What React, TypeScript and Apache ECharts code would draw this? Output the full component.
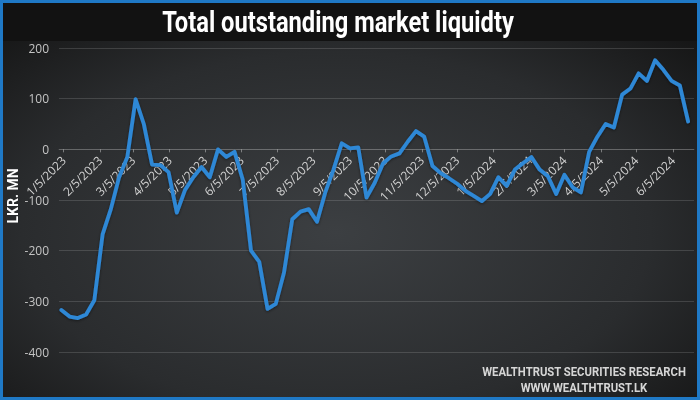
import React, { useEffect, useRef } from "react";
import * as echarts from "echarts";

// Weekly observation dates (Tuesdays)
const weekDates: string[] = [
  "2023-01-03", "2023-01-10", "2023-01-17", "2023-01-24", "2023-01-31",
  "2023-02-07", "2023-02-14", "2023-02-21", "2023-02-28",
  "2023-03-07", "2023-03-14", "2023-03-21", "2023-03-28",
  "2023-04-04", "2023-04-11", "2023-04-18", "2023-04-25",
  "2023-05-02", "2023-05-09", "2023-05-16", "2023-05-23", "2023-05-30",
  "2023-06-06", "2023-06-13", "2023-06-20", "2023-06-27",
  "2023-07-04", "2023-07-11", "2023-07-18", "2023-07-25",
  "2023-08-01", "2023-08-08", "2023-08-15", "2023-08-22", "2023-08-29",
  "2023-09-05", "2023-09-12", "2023-09-19", "2023-09-26",
  "2023-10-03", "2023-10-10", "2023-10-17", "2023-10-24", "2023-10-31",
  "2023-11-07", "2023-11-14", "2023-11-21", "2023-11-28",
  "2023-12-05", "2023-12-12", "2023-12-19", "2023-12-26",
  "2024-01-02", "2024-01-09", "2024-01-16", "2024-01-23", "2024-01-30",
  "2024-02-06", "2024-02-13", "2024-02-20", "2024-02-27",
  "2024-03-05", "2024-03-12", "2024-03-19", "2024-03-26",
  "2024-04-02", "2024-04-09", "2024-04-16", "2024-04-23", "2024-04-30",
  "2024-05-07", "2024-05-14", "2024-05-21", "2024-05-28",
  "2024-06-04", "2024-06-11", "2024-06-18",
];

// Total outstanding market liquidity (LKR bn)
const liquidity: number[] = [
  -317, -330, -333, -326, -298,
  -168, -118, -55, -15,
  99, 50, -30, -31,
  -45, -125, -80, -55,
  -35, -55, 0, -15, -5,
  -60, -200, -222, -315,
  -305, -243, -138, -123,
  -118, -143, -85, -40, 12,
  2, 4, -95, -66,
  -28, -14, -8, 15, 36,
  25, -33, -47, -57,
  -68, -82, -92, -102,
  -88, -55, -72, -40, -27,
  -15, -40, -53, -88,
  -50, -75, -85, -5,
  25, 50, 43, 108, 120,
  150, 135, 176, 157,
  135, 126, 55,
];

const axisStart = "2023-01-01";
const axisEnd = "2024-06-23";
const yMin = -400;
const yMax = 200;
const yStep = 100;

const titleText = "Total outstanding market liquidty";
const yAxisName = "LKR. MN";
const footerLine1 = "WEALTHTRUST SECURITIES RESEARCH";
const footerLine2 = "WWW.WEALTHTRUST.LK";

function buildDays(start: string, end: string): string[] {
  const out: string[] = [];
  const d = new Date(start + "T00:00:00Z");
  const e = new Date(end + "T00:00:00Z");
  while (d.getTime() <= e.getTime()) {
    out.push(d.toISOString().slice(0, 10));
    d.setUTCDate(d.getUTCDate() + 1);
  }
  return out;
}

const GRID_TOP = 48;
const GRID_BOTTOM = 48;
const CHART_H = 400;

export default function App() {
  const ref = useRef<HTMLDivElement>(null);

  useEffect(() => {
    if (!ref.current) return;
    const chart = echarts.init(ref.current, undefined, { renderer: "svg" });

    const days = buildDays(axisStart, axisEnd);
    const lookup: Record<string, number> = {};
    weekDates.forEach((d, i) => {
      lookup[d] = liquidity[i];
    });
    const seriesData = days.map((d) => (d in lookup ? lookup[d] : null));
    const isFifth = (_i: number, v: string) => v.slice(8, 10) === "05";

    // place the category axis on the zero line of the value axis
    const plotH = CHART_H - GRID_TOP - GRID_BOTTOM;
    const zeroFromBottom = (plotH * (0 - yMin)) / (yMax - yMin);

    chart.setOption({
      animation: false,
      backgroundColor: {
        type: "radial",
        x: 0.48,
        y: 0.58,
        r: 0.75,
        colorStops: [
          { offset: 0, color: "#3c3f42" },
          { offset: 0.6, color: "#2a2c2e" },
          { offset: 1, color: "#121212" },
        ],
      },
      grid: { left: 59, right: 6, top: GRID_TOP, bottom: GRID_BOTTOM, containLabel: false },
      xAxis: {
        type: "category",
        data: days,
        boundaryGap: false,
        offset: -zeroFromBottom,
        z: 1,
        axisLine: { show: true, onZero: false, lineStyle: { color: "rgba(255,255,255,0.16)", width: 1 } },
        axisTick: { show: true, interval: isFifth, length: 3, lineStyle: { color: "rgba(220,220,220,0.45)" } },
        axisLabel: {
          interval: isFifth,
          rotate: 45,
          margin: 9,
          color: "#d2d2d2",
          fontSize: 12,
          fontFamily: "Open Sans",
          formatter: (v: string) => `${parseInt(v.slice(5, 7), 10)}/5/${v.slice(0, 4)}`,
        },
        splitLine: { show: false },
      },
      yAxis: {
        type: "value",
        min: yMin,
        max: yMax,
        interval: yStep,
        axisLine: { show: false, onZero: false },
        axisTick: { show: false },
        axisLabel: { color: "#c4c4c4", fontSize: 12, fontFamily: "Open Sans", margin: 10 },
        splitLine: { lineStyle: { color: "rgba(255,255,255,0.14)", width: 1 } },
      },
      series: [
        {
          type: "line",
          data: seriesData,
          connectNulls: true,
          showSymbol: false,
          symbol: "none",
          smooth: false,
          lineStyle: {
            color: "#2f88d6",
            width: 3.8,
            join: "round",
            cap: "round",
            shadowColor: "rgba(0,0,0,0.45)",
            shadowBlur: 3,
            shadowOffsetY: 1,
          },
          z: 5,
        },
      ],
      graphic: [
        {
          type: "rect",
          shape: { x: 0, y: 0, width: 700, height: 41 },
          style: { fill: "#121212" },
          z: 1,
        },
        {
          type: "text",
          x: 338,
          y: 22,
          scaleX: 0.79,
          style: {
            text: titleText,
            fill: "#ffffff",
            font: "bold 30px Roboto",
            align: "center",
            verticalAlign: "middle",
          },
          z: 10,
        },
        {
          type: "text",
          x: 13,
          y: 196,
          rotation: Math.PI / 2,
          style: {
            text: yAxisName,
            fill: "#ffffff",
            font: "bold 14px Roboto",
            align: "center",
            verticalAlign: "middle",
          },
          z: 10,
        },
        {
          type: "text",
          x: 584,
          y: 372,
          scaleX: 0.87,
          style: {
            text: footerLine1,
            fill: "#d6d6d6",
            font: "bold 13px Roboto",
            align: "center",
            verticalAlign: "middle",
          },
          z: 10,
        },
        {
          type: "text",
          x: 584,
          y: 388,
          scaleX: 0.87,
          style: {
            text: footerLine2,
            fill: "#d6d6d6",
            font: "bold 13px Roboto",
            align: "center",
            verticalAlign: "middle",
          },
          z: 10,
        },
        {
          type: "rect",
          shape: { x: 1.5, y: 1.5, width: 697, height: 397 },
          style: { fill: "none", stroke: "#1f79c6", lineWidth: 3 },
          z: 20,
        },
      ],
    });

    return () => {
      chart.dispose();
    };
  }, []);

  return (
    <div
      ref={ref}
      style={{ position: "fixed", left: 0, top: 0, width: 700, height: 400 }}
    />
  );
}
